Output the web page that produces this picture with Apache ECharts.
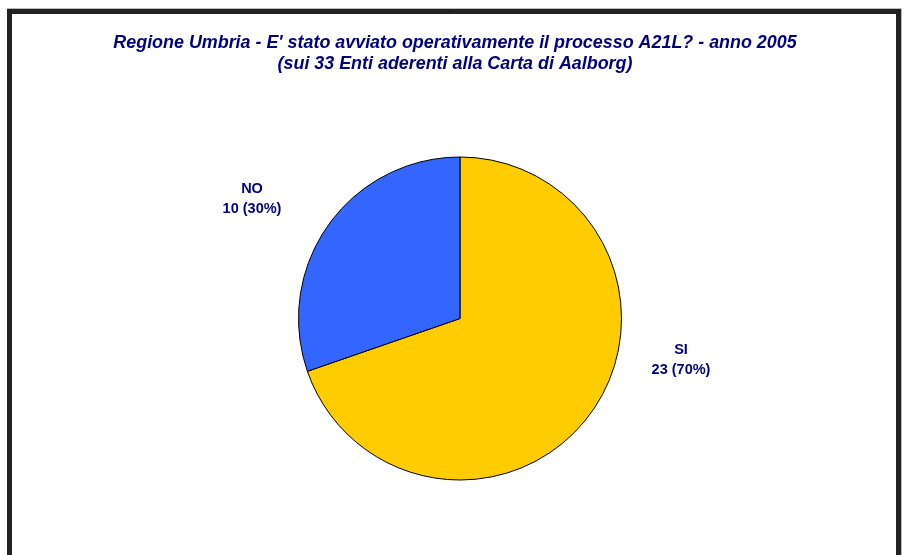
<!DOCTYPE html>
<html><head><meta charset="utf-8">
<script src="https://cdn.jsdelivr.net/npm/echarts@6/dist/echarts.min.js"></script>
<style>html,body{margin:0;padding:0;background:#fff}#c{width:906px;height:555px}</style>
</head><body><div id="c"></div>
<script>
const titleLines = ["Regione Umbria - E' stato avviato operativamente il processo A21L? - anno 2005", "(sui 33 Enti aderenti alla Carta di Aalborg)"];
const categories = ["SI", "NO"];
const values = [23, 10];
const percents = [70, 30];
const colors = ["#FFCC00", "#3366FF"];
const labelPos = [[681, 360], [252, 199]];

const chart = echarts.init(document.getElementById('c'));
chart.setOption({
  backgroundColor: '#ffffff',
  animation: false,
  title: {
    text: titleLines.join('\n'),
    left: 450, top: 28, textAlign: 'center',
    textStyle: { fontFamily: 'Liberation Sans, Arial', fontSize: 17.9, fontWeight: 'bold', fontStyle: 'italic', color: '#000080', lineHeight: 21 }
  },
  graphic: [
    { type: 'rect', shape: { x: 7.5, y: 8.5, width: 894, height: 600 }, style: { fill: 'none', stroke: '#bbbbbb', lineWidth: 1 }, z: -2 },
    { type: 'rect', shape: { x: 9.5, y: 11.5, width: 889, height: 600 }, style: { fill: 'none', stroke: '#222222', lineWidth: 5 }, z: -1 }
  ],
  series: [{
    type: 'pie',
    center: [460, 318.5],
    radius: 161.5,
    startAngle: 90,
    clockwise: true,
    itemStyle: { borderColor: '#000', borderWidth: 1 },
    label: {
      show: true, position: 'outside',
      formatter: p => p.name + '\n' + p.value + ' (' + percents[p.dataIndex] + '%)',
      fontFamily: 'Liberation Sans, Arial', fontSize: 14.5, fontWeight: 'bold', color: '#000080',
      lineHeight: 20, align: 'center'
    },
    labelLine: { show: false },
    labelLayout: p => ({ x: labelPos[p.dataIndex][0], y: labelPos[p.dataIndex][1], align: 'center', verticalAlign: 'middle' }),
    emphasis: { disabled: true },
    data: categories.map((c, i) => ({ name: c, value: values[i], itemStyle: { color: colors[i] } }))
  }]
});
</script></body></html>
